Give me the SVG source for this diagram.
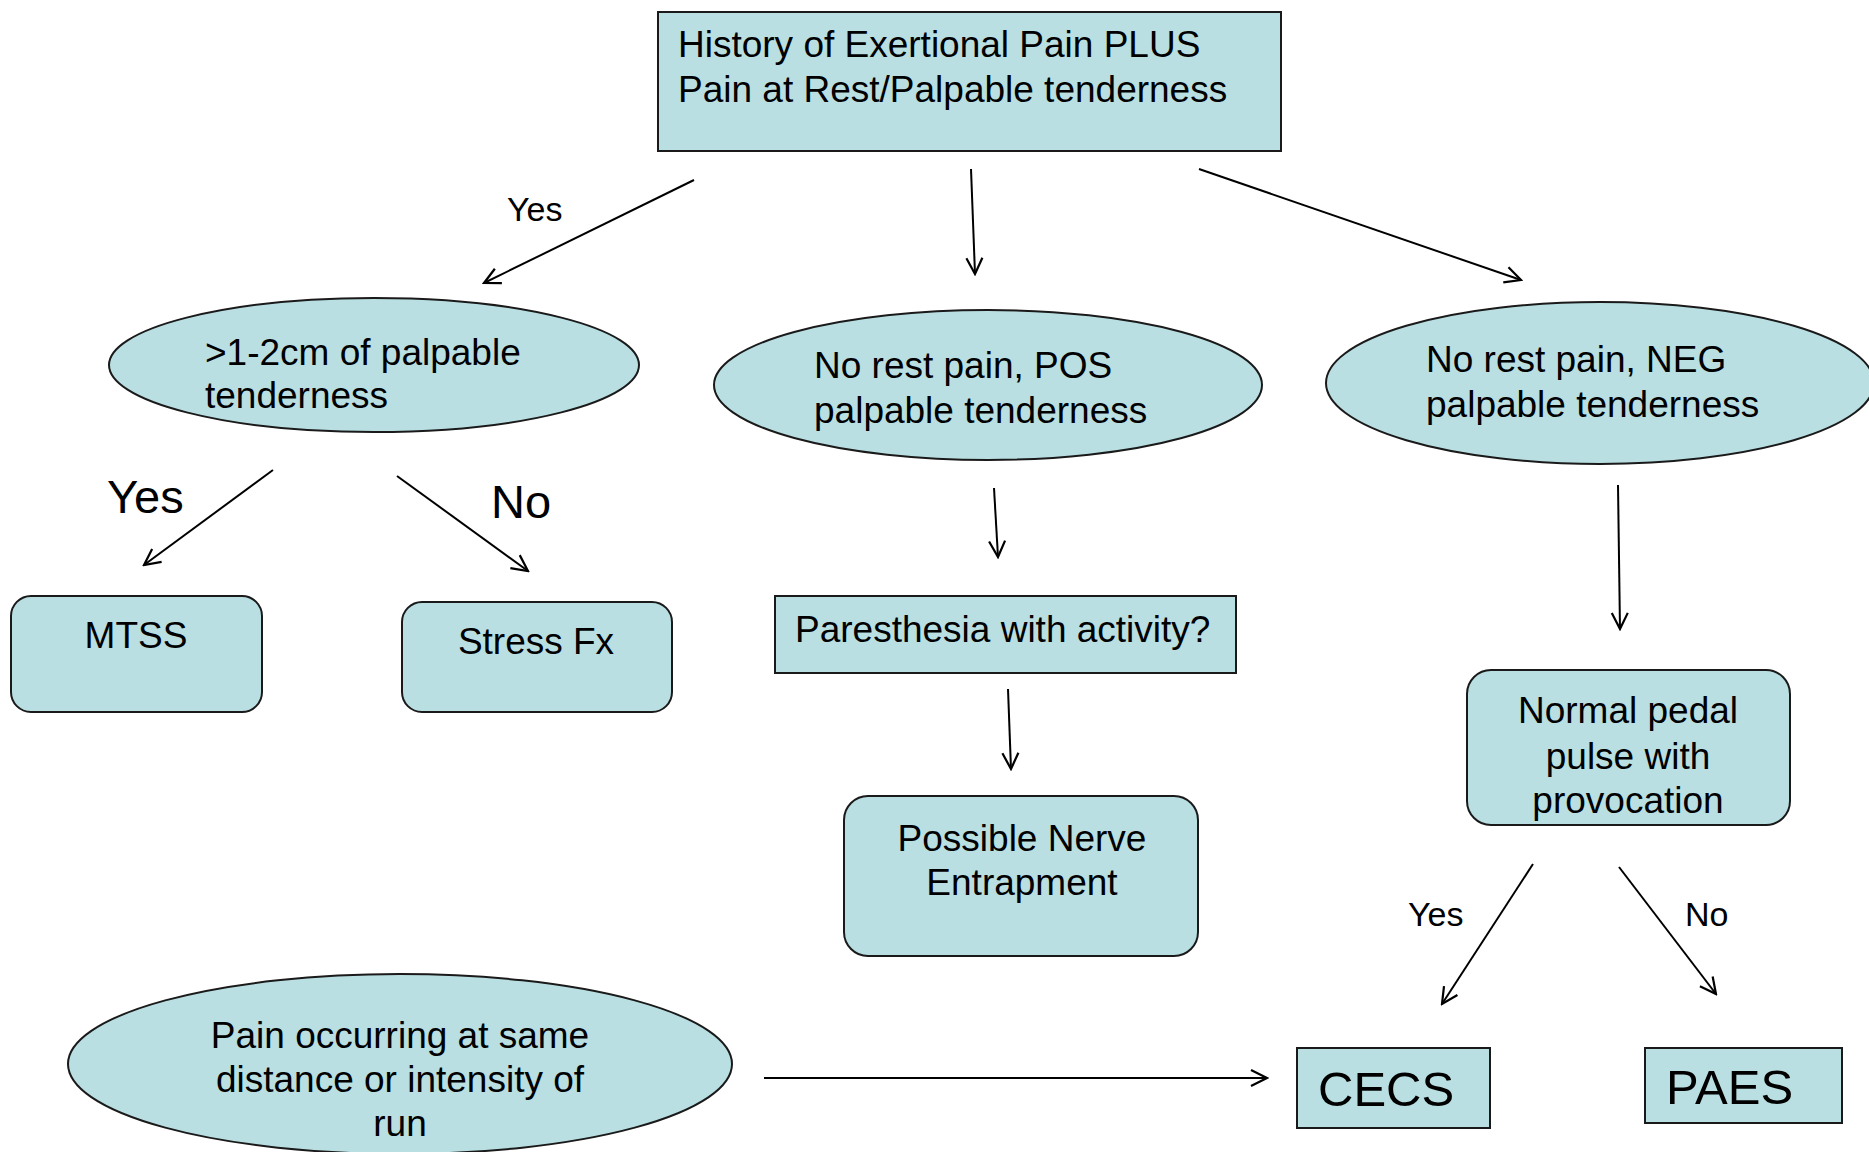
<svg xmlns="http://www.w3.org/2000/svg" width="1869" height="1152" viewBox="0 0 1869 1152">
<style>
.n{fill:#b9dfe2;stroke:#1a1a1a;stroke-width:2}
.t{font-family:"Liberation Sans",Arial,sans-serif;font-size:37px;fill:#000}
.c{text-anchor:middle}
.e{stroke:#000;stroke-width:2;fill:none;marker-end:url(#ah)}
</style>
<defs>
<marker id="ah" viewBox="0 0 20 20" refX="18" refY="10" markerWidth="20" markerHeight="20" markerUnits="userSpaceOnUse" orient="auto">
<path d="M2,2 L18,10 L2,18" fill="none" stroke="#000" stroke-width="2.2"/>
</marker>
</defs>
<rect width="1869" height="1152" fill="#fff"/>
<g id="connectors">
<line class="e" x1="694" y1="180" x2="484" y2="283"/>
<line class="e" x1="971" y1="169" x2="975" y2="274"/>
<line class="e" x1="1199" y1="169" x2="1521" y2="280"/>
<line class="e" x1="273" y1="470" x2="144" y2="565"/>
<line class="e" x1="397" y1="476" x2="528" y2="571"/>
<line class="e" x1="994" y1="488" x2="998" y2="557"/>
<line class="e" x1="1008" y1="689" x2="1011" y2="769"/>
<line class="e" x1="1618" y1="485" x2="1620" y2="629"/>
<line class="e" x1="1533" y1="864" x2="1442" y2="1004"/>
<line class="e" x1="1619" y1="867" x2="1716" y2="994"/>
<line class="e" x1="764" y1="1078" x2="1267" y2="1078"/>
<text class="t" x="507" y="221" style="font-size:34px">Yes</text>
<text class="t" x="107" y="513" style="font-size:47px">Yes</text>
<text class="t" x="491" y="518" style="font-size:47px">No</text>
<text class="t" x="1408" y="926" style="font-size:34px">Yes</text>
<text class="t" x="1685" y="926" style="font-size:34px">No</text>
</g>
<g id="top">
<rect class="n" x="658" y="12" width="623" height="139"/>
<text class="t" x="678" y="57">History of Exertional Pain PLUS</text>
<text class="t" x="678" y="102">Pain at Rest/Palpable tenderness</text>
</g>
<g id="palpable">
<ellipse class="n" cx="374" cy="365" rx="265" ry="67"/>
<text class="t" x="205" y="365">&gt;1-2cm of palpable</text>
<text class="t" x="205" y="408">tenderness</text>
</g>
<g id="pos">
<ellipse class="n" cx="988" cy="385" rx="274" ry="75"/>
<text class="t" x="814" y="378">No rest pain, POS</text>
<text class="t" x="814" y="423">palpable tenderness</text>
</g>
<g id="neg">
<ellipse class="n" cx="1600" cy="383" rx="274" ry="81"/>
<text class="t" x="1426" y="372">No rest pain, NEG</text>
<text class="t" x="1426" y="417">palpable tenderness</text>
</g>
<g id="mtss">
<rect class="n" x="11" y="596" width="251" height="116" rx="20"/>
<text class="t c" x="136" y="648">MTSS</text>
</g>
<g id="stress">
<rect class="n" x="402" y="602" width="270" height="110" rx="20"/>
<text class="t c" x="536" y="654">Stress Fx</text>
</g>
<g id="paresthesia">
<rect class="n" x="775" y="596" width="461" height="77"/>
<text class="t" x="795" y="642">Paresthesia with activity?</text>
</g>
<g id="nerve">
<rect class="n" x="844" y="796" width="354" height="160" rx="24"/>
<text class="t c" x="1022" y="851">Possible Nerve</text>
<text class="t c" x="1022" y="895">Entrapment</text>
</g>
<g id="pedal">
<rect class="n" x="1467" y="670" width="323" height="155" rx="24"/>
<text class="t c" x="1628" y="723">Normal pedal</text>
<text class="t c" x="1628" y="769">pulse with</text>
<text class="t c" x="1628" y="813">provocation</text>
</g>
<g id="run">
<ellipse class="n" cx="400" cy="1064" rx="332" ry="90"/>
<text class="t c" x="400" y="1048">Pain occurring at same</text>
<text class="t c" x="400" y="1092">distance or intensity of</text>
<text class="t c" x="400" y="1136">run</text>
</g>
<g id="cecs">
<rect class="n" x="1297" y="1048" width="193" height="80"/>
<text class="t" x="1318" y="1106" style="font-size:49px">CECS</text>
</g>
<g id="paes">
<rect class="n" x="1645" y="1048" width="197" height="75"/>
<text class="t" x="1666" y="1104" style="font-size:49px">PAES</text>
</g>
</svg>
